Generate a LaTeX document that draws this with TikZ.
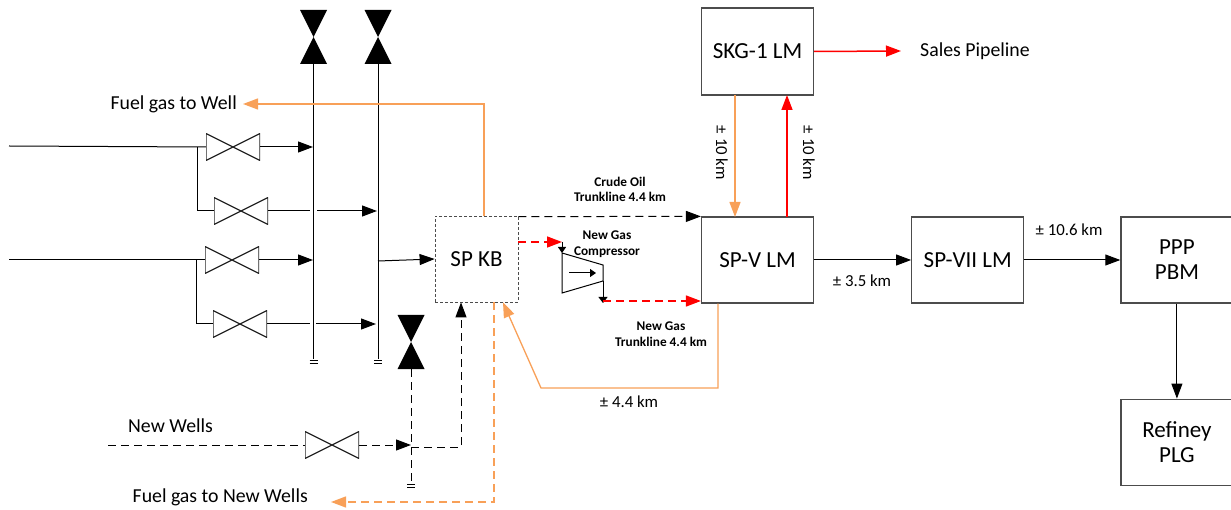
\documentclass[tikz,border=0pt]{standalone}
\usepackage{fontspec}
\setmainfont{Carlito}
\usetikzlibrary{arrows.meta,positioning}
\definecolor{gasorange}{RGB}{248,160,88}
\tikzstyle{brick} = [rectangle, minimum width = 112pt, minimum height = 86pt, align = center, inner sep = 0pt, draw = black!70, line width = 1.2pt, font = \fontsize{23}{25}\selectfont]
\tikzstyle{dashbrick} = [brick, minimum width = 83pt, densely dashed, line width = .8pt]
\tikzstyle{tag} = [inner sep = 0pt, align = center, font = \fontsize{19.8}{24}\selectfont]
\tikzstyle{kmtag} = [inner sep = 0pt, align = center, font = \fontsize{16.8}{20}\selectfont]
\tikzstyle{smalltag} = [inner sep = 0pt, align = center, font = \bfseries\fontsize{13.3}{15.5}\selectfont]
\tikzstyle{valve} = [rectangle, minimum width = 54pt, minimum height = 27pt, inner sep = 0pt, path picture = {
  \draw[line width = 1.2pt,black!85] (path picture bounding box.south west) -- (path picture bounding box.north east) -- (path picture bounding box.south east) -- (path picture bounding box.north west) -- cycle;}]
\tikzstyle{blockvalve} = [rectangle, minimum width = 27pt, minimum height = 54pt, inner sep = 0pt, path picture = {
  \fill[black] (path picture bounding box.south west) -- (path picture bounding box.north east) -- (path picture bounding box.north west) -- (path picture bounding box.south east) -- cycle;}]
\tikzstyle{pipe} = [line width = 1pt, >={Triangle[length = 15pt, width = 11pt]}]
\tikzstyle{dashpipe} = [pipe, dash pattern = on 8pt off 5pt]
\tikzstyle{redpipe} = [pipe, line width = 1.5pt, draw = red]
\tikzstyle{gaspipe} = [pipe, line width = 1.3pt, draw = gasorange]
\tikzstyle{drain} = [line width = 1pt]

\begin{document}
\begin{tikzpicture}[x = 1pt, y = -1pt]
        \useasboundingbox (0,0) rectangle (1231,510);
        % boxes
        \node (spv) [brick] at (757.5,260) {SP-V LM};
        \node (skg) [brick,minimum height = 87pt] at (757.5,51.5) {SKG-1 LM};
        \node (spvii) [brick,right=97pt of spv] {SP-VII LM};
        \node (ppp) [brick,right=96pt of spvii] {PPP\\PBM};
        \node (plg) [brick,below=95pt of ppp] {Refiney\\PLG};
        \node (spkb) [dashbrick] at (476.5,259) {SP KB};
        % valves
        \node (va) [valve] at (233,147) {};
        \node (vb) [valve] at (241,211) {};
        \node (vc) [valve] at (232,260) {};
        \node (vd) [valve] at (240,324) {};
        \node (ve) [valve] at (332,445) {};
        \node (bva) [blockvalve] at (313.5,37) {};
        \node (bvb) [blockvalve] at (378,37) {};
        \node (bvc) [blockvalve] at (411,342) {};
        % free ends
        \coordinate (ina) at (9,146);
        \coordinate (inb) at (9,260);
        \coordinate (inc) at (108,445);
        \coordinate (grda) at (313.5,359);
        \coordinate (grdb) at (378,359);
        \coordinate (grdc) at (411,483);
        \coordinate (fuela) at (243,104);
        \coordinate (fuelb) at (331,502);
        \coordinate (sales) at (901,51);
        \coordinate (comptl) at (562,253);
        \coordinate (comptr) at (603,265);
        \coordinate (compbr) at (603,281);
        \coordinate (compbl) at (562,293);
        \coordinate (compin) at (562,242);
        \coordinate (compout) at (603,301);
        \coordinate (skgin) at (787,95);
        \coordinate (skgout) at (735,95);
        \coordinate (spvin) at (735,217);
        \coordinate (spvout) at (787,217);
        % compressor
        \draw [drain] (comptl) -- (comptr) -- (compbr) -- (compbl) -- cycle;
        \draw [drain,->,>={Triangle[length = 6pt, width = 8pt]}] (compin) -- (comptl);
        \draw [drain,->,>={Triangle[length = 6pt, width = 9pt]}] (compbr) -- (603,303);
        \draw [pipe,->,>={Triangle[length = 6pt, width = 8pt]}] (569,273) -- (596,273);
        % headers
        \draw [drain] (bva) -- (grda);
        \draw [drain] (bvb) -- (grdb);
        \draw [drain] (309.5,360.5) -- (317.5,360.5) (309.5,363.5) -- (317.5,363.5);
        \draw [drain] (374,360.5) -- (382,360.5) (374,363.5) -- (382,363.5);
        \draw [drain] (407,484.5) -- (415,484.5) (407,487.5) -- (415,487.5);
        % wells
        \draw [drain] (ina) -- (va.west);
        \draw [drain] (197,147) |- (vb.west);
        \draw [drain] (inb) -- (vc.west);
        \draw [drain] (196,260) |- (vd.west);
        \draw [pipe,->] (va.east) -- (313,147);
        \draw [drain] (vb.east) -- (310,211);
        \draw [pipe,->] (317,211) -- (377,211);
        \draw [pipe,->] (vc.east) -- (313,260);
        \draw [drain] (vd.east) -- (310,324);
        \draw [pipe,->] (316,324) -- (376,324);
        \draw [pipe,->] (378,261) -- (spkb.west);
        % new wells
        \draw [dashpipe] (inc) -- (ve.west);
        \draw [dashpipe,->] (ve.east) -- (411,445);
        \draw [dashpipe] (bvc) -- (grdc);
        \draw [dashpipe,->] (411,447) -| (spkb.south -| 461,0);
        % oil and gas lines
        \draw [dashpipe,->] (spkb.north east) ++(0,1) -- (spv.north west);
        \draw [redpipe,dash pattern = on 8pt off 5pt,->] (518,242) -- (compin);
        \draw [redpipe,dash pattern = on 8pt off 5pt,->] (compout) -- (spv.west |- compout);
        \draw [gaspipe,->] (spkb.north -| 484,0) |- (fuela);
        \draw [gaspipe,dash pattern = on 8pt off 5pt,->] (spkb.south -| 494,0) |- (fuelb);
        \draw [gaspipe,->] (spv.south -| 718,0) -- (718,388) -- (541,388) -- (spkb.south -| 503,0);
        \draw [gaspipe,->] (skgout) -- (spvin);
        \draw [redpipe,->] (spvout) -- (skgin);
        \draw [redpipe,->] (skg.east) -- (sales);
        \draw [pipe,->] (spv) -- (spvii);
        \draw [pipe,->] (spvii) -- (ppp);
        \draw [pipe,->] (ppp) -- (plg);
        % labels
        \node (tfuela) [tag,anchor=east] at (237,104) {Fuel gas to Well};
        \node (tfuelb) [tag,anchor=east] at (308,497) {Fuel gas to New Wells};
        \node (tnew) [tag,anchor=west] at (128,426) {New Wells};
        \node (tsales) [tag,anchor=west] at (920,51) {Sales Pipeline};
        \node (ttena) [kmtag,rotate=-90] at (722,153) {± 10 km};
        \node (ttenb) [kmtag,rotate=-90] at (809,153) {± 10 km};
        \node (tkma) [kmtag] at (862,281) {± 3.5 km};
        \node (tkmb) [kmtag] at (1069,230) {± 10.6 km};
        \node (tkmc) [kmtag] at (629,402) {± 4.4 km};
        \node (tcrude) [smalltag] at (620,189.5) {Crude Oil\\Trunkline 4.4 km};
        \node (tcomp) [smalltag] at (607,244) {New Gas\\Compressor};
        \node (ttrunk) [smalltag] at (661,334) {New Gas\\Trunkline 4.4 km};
        \end{tikzpicture}
\end{document}
